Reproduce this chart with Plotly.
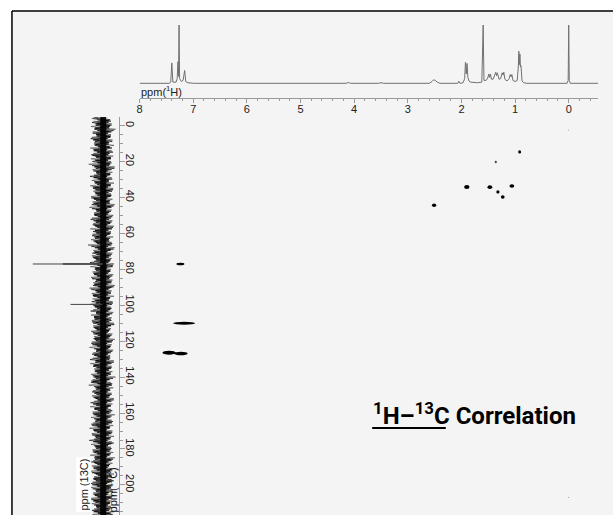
import plotly.graph_objects as go

W, H = 613, 515

# ---------------- data ----------------
# 1H spectrum vertices (ppm, relative intensity)
h1_ppm = [8.0, 7.45, 7.42, 7.40, 7.38, 7.32, 7.30, 7.285, 7.275, 7.265, 7.255, 7.22, 7.19, 7.16, 7.14, 7.10, 7.0,
          4.15, 4.11, 4.07, 3.55, 3.50, 3.45,
          2.60, 2.55, 2.52, 2.49, 2.45, 2.40,
          2.07, 2.05, 2.03,
          1.97, 1.94, 1.925, 1.91, 1.895, 1.88, 1.86, 1.83, 1.70, 1.62, 1.595, 1.58, 1.54, 1.51, 1.49, 1.475,
          1.46, 1.44, 1.41, 1.38, 1.36, 1.345, 1.33, 1.30, 1.27, 1.24, 1.225, 1.21, 1.19, 1.15, 1.11, 1.09,
          1.075, 1.06, 1.04, 1.00, 0.96, 0.94, 0.93, 0.92, 0.91, 0.90, 0.89, 0.87, 0.84, 0.78,
          0.03, 0.01, 0.0, -0.01, -0.03, -0.55]
h1_int = [0.0, 0.0, 0.02, 0.35, 0.02, 0.02, 0.08, 0.37, 0.12, 1.0, 0.08, 0.03, 0.05, 0.22, 0.03, 0.01, 0.0,
          0.0, 0.015, 0.0, 0.0, 0.01, 0.0,
          0.0, 0.03, 0.06, 0.05, 0.02, 0.0,
          0.0, 0.035, 0.0,
          0.01, 0.08, 0.36, 0.16, 0.34, 0.10, 0.04, 0.02, 0.01, 0.02, 1.0, 0.05, 0.05, 0.09, 0.16, 0.10,
          0.16, 0.07, 0.07, 0.13, 0.19, 0.13, 0.18, 0.07, 0.08, 0.18, 0.14, 0.19, 0.07, 0.04, 0.08, 0.15,
          0.11, 0.15, 0.05, 0.03, 0.05, 0.28, 0.55, 0.32, 0.50, 0.28, 0.30, 0.04, 0.01, 0.0,
          0.0, 0.05, 1.0, 0.05, 0.0, 0.0]

# 13C projection: noise band envelope (left / right excursions) every 3 ppm from -4.8 ppm
c13_noise_start = -4.8
c13_noise_step = 3.0
c13_noise_left = [0.12, 0.15, 0.11, 0.14, 0.17, 0.12, 0.13, 0.16, 0.11, 0.15,
                  0.13, 0.18, 0.12, 0.14, 0.11, 0.16, 0.13, 0.15, 0.12, 0.17,
                  0.14, 0.11, 0.15, 0.13, 0.16, 0.12, 0.14, 0.18, 0.11, 0.13,
                  0.15, 0.12, 0.16, 0.14, 0.11, 0.13, 0.17, 0.12, 0.15, 0.13,
                  0.14, 0.11, 0.16, 0.12, 0.15, 0.18, 0.13, 0.11, 0.14, 0.16,
                  0.12, 0.15, 0.13, 0.17, 0.11, 0.14, 0.12, 0.16, 0.13, 0.15,
                  0.19, 0.12, 0.14, 0.11, 0.16, 0.13, 0.15, 0.12, 0.17, 0.14,
                  0.13, 0.16, 0.12, 0.15, 0.14]
c13_noise_right = [0.11, 0.13, 0.16, 0.12, 0.14, 0.10, 0.15, 0.12, 0.13, 0.17,
                   0.11, 0.14, 0.12, 0.15, 0.13, 0.11, 0.16, 0.12, 0.14, 0.13,
                   0.15, 0.12, 0.11, 0.14, 0.16, 0.13, 0.12, 0.15, 0.11, 0.14,
                   0.13, 0.16, 0.12, 0.11, 0.15, 0.13, 0.14, 0.12, 0.17, 0.11,
                   0.13, 0.15, 0.12, 0.14, 0.11, 0.16, 0.13, 0.12, 0.15, 0.14,
                   0.11, 0.13, 0.16, 0.12, 0.14, 0.13, 0.15, 0.11, 0.14, 0.12,
                   0.16, 0.13, 0.12, 0.15, 0.11, 0.14, 0.13, 0.16, 0.12, 0.15,
                   0.13, 0.11, 0.14, 0.12, 0.15]
c13_peak_ppm = [76.9, 77.0, 77.1, 99.5]
c13_peak_int = [0.57, 1.0, 0.57, 0.46]

# HSQC cross peaks: 1H ppm, 13C ppm, extent in 1H, extent in 13C, shade
xp_h = [0.00, 0.915, 1.36, 1.90, 1.47, 1.06, 1.32, 1.23, 2.51, 7.24, 7.17, 7.45, 7.23, 0.00]
xp_c = [2.4, 14.6, 20.2, 34.1, 34.2, 33.6, 36.9, 39.7, 44.3, 77.0, 110.0, 126.4, 126.8, 207.0]
xp_dh = [0.02, 0.055, 0.04, 0.10, 0.09, 0.09, 0.06, 0.07, 0.08, 0.15, 0.41, 0.25, 0.25, 0.02]
xp_dc = [0.7, 1.8, 1.3, 2.2, 2.0, 2.0, 1.8, 2.0, 1.9, 1.5, 1.6, 2.2, 2.0, 0.7]
xp_col = ['#999', 'black', '#444', 'black', 'black', 'black', 'black', 'black', 'black',
          'black', 'black', 'black', 'black', '#999']

h1_ticks = [8, 7, 6, 5, 4, 3, 2, 1, 0]
c13_ticks = [0, 20, 40, 60, 80, 100, 120, 140, 160, 180, 200]


# ---------------- helpers (pixel -> paper) ----------------
def px(x):
    return x / W


def py(y):
    return 1 - y / H


fig = go.Figure()

# 1H trace
fig.add_trace(go.Scatter(x=h1_ppm, y=h1_int, xaxis='x', yaxis='y', mode='lines',
                         line=dict(color='#707070', width=1), hoverinfo='skip'))

# 13C noise band: dark core plus several zig-zag passes between the read envelope values
fig.add_trace(go.Scatter(x=[-0.01, -0.01], y=[c13_noise_start, 217], xaxis='x3', yaxis='y3', mode='lines',
                         line=dict(color='rgba(0,0,0,0.9)', width=6), hoverinfo='skip'))
passes = [(0, 1.0, 0.0, 'rgba(0,0,0,0.75)'),
          (11, 0.85, 0.75, 'rgba(0,0,0,0.8)'),
          (23, 0.6, 1.5, 'rgba(0,0,0,0.9)'),
          (37, 1.1, 2.25, 'rgba(0,0,0,0.5)'),
          (53, 0.75, 0.4, 'rgba(0,0,0,0.85)')]
n = len(c13_noise_left)
for shift, amp, off, col in passes:
    zx, zy = [], []
    for i in range(n):
        l = c13_noise_left[(i + shift) % n]
        r = c13_noise_right[(i + shift) % n]
        p = c13_noise_start + c13_noise_step * i + off
        zx += [l * amp, -r * amp]
        zy += [p, p + c13_noise_step / 2]
    fig.add_trace(go.Scatter(x=zx, y=zy, xaxis='x3', yaxis='y3', mode='lines',
                             line=dict(color=col, width=0.8), hoverinfo='skip'))
# 13C spikes
sx, sy = [], []
for p, v in zip(c13_peak_ppm, c13_peak_int):
    sx += [0, v, None]
    sy += [p, p, None]
fig.add_trace(go.Scatter(x=sx, y=sy, xaxis='x3', yaxis='y3', mode='lines',
                         line=dict(color='#444', width=1), hoverinfo='skip'))

shapes = []
# background panel with border on top and left
shapes.append(dict(type='rect', xref='paper', yref='paper', x0=px(9), x1=1.01, y0=-0.01, y1=py(11),
                   fillcolor='#f4f4f4', line=dict(width=0), layer='below'))
shapes.append(dict(type='line', xref='paper', yref='paper', x0=px(9), x1=1.01, y0=py(11), y1=py(11),
                   line=dict(color='black', width=1.5)))
shapes.append(dict(type='line', xref='paper', yref='paper', x0=px(9), x1=px(9), y0=-0.01, y1=py(11),
                   line=dict(color='black', width=1.5)))
# cross peaks
for h, c, dh, dc, col in zip(xp_h, xp_c, xp_dh, xp_dc, xp_col):
    shapes.append(dict(type='circle', xref='x', yref='y3', x0=h - dh / 2, x1=h + dh / 2,
                       y0=c - dc / 2, y1=c + dc / 2, fillcolor=col, line=dict(width=0)))
# underline of the 1H-13C part of the title
shapes.append(dict(type='line', xref='paper', yref='paper', x0=px(371), x1=px(445), y0=py(428), y1=py(428),
                   line=dict(color='black', width=2)))

tickfont = dict(family='Arial, Liberation Sans, sans-serif', size=11, color='#222')

# axis scales (pixel calibration of reference)
h1_px8, h1_pxpp = 137.3, 53.9
h1_base, h1_top = 83.3, 25.0
c13_px0, c13_pxpp = 125.7, 1.796
x_l, x_r = 137.3, 598.0
y_t, y_b = 117.0, 515.0
h1_span = h1_base - h1_top

fig.update_layout(
    width=W, height=H, margin=dict(l=0, r=0, t=0, b=0),
    paper_bgcolor='white', plot_bgcolor='rgba(0,0,0,0)', showlegend=False,
    xaxis=dict(domain=[px(x_l), px(x_r)],
               range=[8 - (x_l - h1_px8) / h1_pxpp, 8 - (x_r - h1_px8) / h1_pxpp],
               anchor='y', showline=True, linecolor='#9a9a9a', linewidth=1,
               ticks='outside', ticklen=4, tickcolor='#9a9a9a', tickvals=h1_ticks,
               minor=dict(dtick=0.2, ticklen=2, ticks='outside', tickcolor='#9a9a9a'),
               ticklabelstandoff=-3,
               showgrid=False, zeroline=False, tickfont=tickfont),
    yaxis=dict(domain=[py(98), py(20)], range=[-(98 - h1_base) / h1_span, 1 + (h1_top - 20) / h1_span],
               anchor='x', visible=False),
    xaxis3=dict(domain=[px(20), px(117)], range=[(100 - 20) / 70, (100 - 117) / 70],
                anchor='y3', visible=False),
    yaxis3=dict(domain=[0, py(y_t)],
                range=[(y_b - c13_px0) / c13_pxpp, (y_t - c13_px0) / c13_pxpp],
                anchor='x3', side='right', showline=True, linecolor='#9a9a9a', linewidth=1,
                ticks='outside', ticklen=5, tickcolor='#9a9a9a', tickvals=c13_ticks,
                minor=dict(dtick=5, ticklen=3, ticks='outside', tickcolor='#9a9a9a'),
                ticklabelstandoff=-4,
                tickangle=90, showgrid=False, zeroline=False, tickfont=tickfont),
    shapes=shapes,
    annotations=[
        dict(text='ppm(<sup>1</sup>H)', xref='paper', yref='paper', x=px(137), y=py(91),
             xanchor='left', yanchor='middle', showarrow=False, font=tickfont),
        dict(text='<b><sup>1</sup>H–<sup>13</sup>C Correlation</b>', xref='paper', yref='paper',
             x=px(370), y=py(414), xanchor='left', yanchor='middle', showarrow=False,
             font=dict(family='Roboto, sans-serif', size=24, color='black')),
        dict(text='ppm (13C)', xref='paper', yref='paper', x=px(81), y=py(485),
             xanchor='center', yanchor='middle', textangle=-90, showarrow=False,
             bgcolor='white', font=tickfont),
        dict(text='ppm(<sup>13</sup>C)', xref='paper', yref='paper', x=px(110), y=py(490),
             xanchor='center', yanchor='middle', textangle=-90, showarrow=False,
             font=dict(family='Arial, Liberation Sans, sans-serif', size=11, color='#111')),
    ],
)

fig.write_html("out.html", config={'displayModeBar': False},
               post_script="document.body.style.margin='0';document.body.style.overflow='hidden';")
